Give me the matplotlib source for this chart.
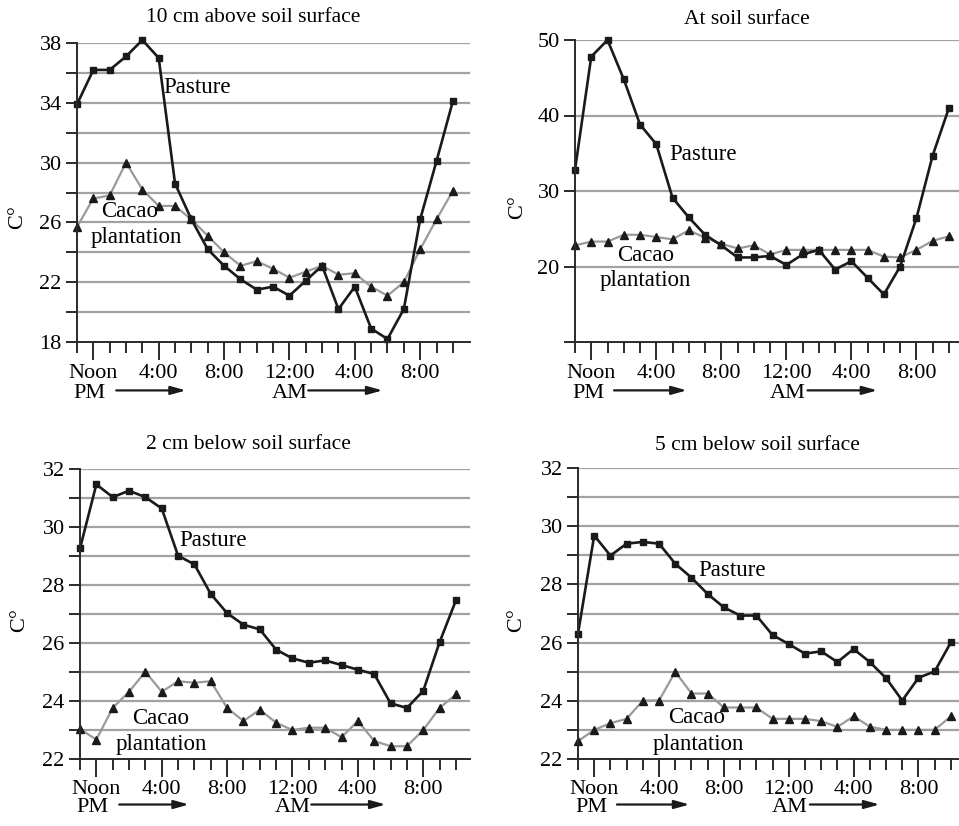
import matplotlib
matplotlib.use("Agg")
import matplotlib.pyplot as plt
from matplotlib.ticker import FixedLocator

plt.rcParams['font.family'] = ['Liberation Serif', 'DejaVu Serif']

# hour of day, 11 AM through 10 AM next morning
hours = [11, 12, 13, 14, 15, 16, 17, 18, 19, 20, 21, 22,
         23, 24, 25, 26, 27, 28, 29, 30, 31, 32, 33, 34]
tick_hours = [12, 16, 20, 24, 28, 32]
tick_labels = ['Noon', '4:00', '8:00', '12:00', '4:00', '8:00']

titles = ['10 cm above soil surface', 'At soil surface',
          '2 cm below soil surface', '5 cm below soil surface']

pasture_10above = [33.9, 36.2, 36.2, 37.1, 38.2, 37.0, 28.6, 26.2, 24.2, 23.1, 22.2, 21.5,
                   21.7, 21.1, 22.1, 23.1, 20.2, 21.7, 18.9, 18.2, 20.2, 26.2, 30.1, 34.1]
cacao_10above = [25.7, 27.6, 27.8, 30.0, 28.2, 27.1, 27.1, 26.2, 25.1, 24.0, 23.1, 23.4,
                 22.9, 22.3, 22.7, 23.1, 22.5, 22.6, 21.7, 21.1, 22.0, 24.2, 26.2, 28.1]

pasture_surface = [32.8, 47.8, 50.0, 44.8, 38.8, 36.2, 29.1, 26.5, 24.2, 22.8, 21.2, 21.2,
                   21.4, 20.2, 21.6, 22.2, 19.6, 20.7, 18.5, 16.3, 20.0, 26.4, 34.7, 41.0]
cacao_surface = [22.8, 23.3, 23.3, 24.2, 24.2, 23.9, 23.6, 24.8, 23.8, 23.0, 22.4, 22.8,
                 21.6, 22.2, 22.2, 22.2, 22.2, 22.2, 22.2, 21.3, 21.2, 22.2, 23.4, 24.0]

pasture_2below = [29.26, 31.47, 31.03, 31.25, 31.03, 30.64, 29.01, 28.71, 27.69, 27.03, 26.63, 26.47,
                  25.77, 25.47, 25.32, 25.40, 25.24, 25.08, 24.93, 23.92, 23.76, 24.35, 26.03, 27.47]
cacao_2below = [23.03, 22.67, 23.76, 24.32, 25.01, 24.32, 24.68, 24.63, 24.68, 23.76, 23.31, 23.70,
                23.25, 23.00, 23.08, 23.08, 22.75, 23.31, 22.62, 22.44, 22.44, 23.00, 23.76, 24.23]

pasture_5below = [26.31, 29.68, 28.99, 29.40, 29.46, 29.40, 28.71, 28.23, 27.67, 27.21, 26.93, 26.93,
                  26.26, 25.95, 25.62, 25.70, 25.33, 25.78, 25.33, 24.78, 24.01, 24.79, 25.01, 26.01]
cacao_5below = [22.61, 23.00, 23.23, 23.38, 24.01, 24.01, 25.00, 24.25, 24.25, 23.77, 23.77, 23.77,
                23.38, 23.38, 23.38, 23.30, 23.10, 23.47, 23.11, 23.00, 23.00, 23.00, 23.00, 23.47]

pasture = [pasture_10above, pasture_surface, pasture_2below, pasture_5below]
cacao = [cacao_10above, cacao_surface, cacao_2below, cacao_5below]

W, H = 959, 826
fig = plt.figure(figsize=(W / 100, H / 100), dpi=100)

# panel boxes in pixels: left, top, right, bottom
boxes = [(77, 43, 470, 342), (575, 40, 959, 342), (80, 469, 470, 759), (578, 468, 959, 759)]
x_right = [35.05, 34.62, 34.86, 34.5]
ylims = [(18, 38), (10, 50), (22, 32), (22, 32)]
grid_step = [2, 10, 1, 1]
label_ticks = [[18, 22, 26, 30, 34, 38], [20, 30, 40, 50], [22, 24, 26, 28, 30, 32], [22, 24, 26, 28, 30, 32]]
title_pos = [(253, 17), (747, 19), (248, 445), (757, 446)]
ylabel_pos = [(18, 217), (518, 207), (20, 620), (517, 620)]
# gap in pixels between axis line and the PM / AM row
row_gap = [52, 52, 49, 49]
# (x, y, ha) for "Pasture", "Cacao", "plantation"
label_pos = [
    [(16.3, 35.0, 'left'), (14.2, 26.7, 'center'), (14.65, 25.0, 'center')],
    [(16.77, 34.8, 'left'), (15.35, 21.4, 'center'), (15.35, 18.1, 'center')],
    [(17.1, 29.55, 'left'), (15.95, 23.4, 'center'), (15.95, 22.5, 'center')],
    [(18.4, 28.49, 'left'), (18.3, 23.44, 'center'), (18.4, 22.5, 'center')],
]
# PM / AM arrow rows: text left x, arrow start, arrow end
pm_row = [(10.75, 13.4, 17.67), (10.82, 13.4, 17.88), (10.75, 13.4, 17.67), (10.82, 13.4, 17.88)]
am_row = [(22.9, 25.15, 29.7), (22.98, 25.3, 29.6), (22.9, 25.15, 29.7), (22.98, 25.3, 29.6)]

grid_col = '#a2a2a2'
axis_col = '#2a2a2a'
fs = 16

for i in range(4):
    l, t, r, b = boxes[i]
    ax = fig.add_axes([l / W, 1 - b / H, (r - l) / W, (b - t) / H])
    ax.set_xlim(11, x_right[i])
    lo, hi = ylims[i]
    ax.set_ylim(lo, hi)
    for spine in ['top', 'right']:
        ax.spines[spine].set_visible(False)
    for spine in ['left', 'bottom']:
        ax.spines[spine].set_color(axis_col)
        ax.spines[spine].set_linewidth(1.4)
        ax.spines[spine].set_zorder(4)

    gy = list(range(lo, hi + 1, grid_step[i]))
    for g in gy[1:]:
        ax.axhline(g, color=grid_col, lw=1.6, zorder=1)
    ax.yaxis.set_major_locator(FixedLocator(gy))
    ax.set_yticklabels([str(g) if g in label_ticks[i] else '' for g in gy])
    ax.tick_params(axis='y', length=8, width=1.4, color=axis_col, pad=3, labelsize=fs)

    ax.xaxis.set_major_locator(FixedLocator(tick_hours))
    ax.xaxis.set_minor_locator(FixedLocator(hours))
    ax.set_xticklabels(tick_labels)
    ax.tick_params(axis='x', which='major', length=13, width=1.4, color=axis_col,
                   pad=2 if i >= 2 else 3, labelsize=fs)
    ax.tick_params(axis='x', which='minor', length=8, width=1.4, color=axis_col)

    ax.plot(hours, cacao[i], color='#9a9a9a', lw=1.6, marker='^', ms=5.5,
            mfc='#1a1a1a', mec='#1a1a1a', zorder=3, clip_on=False)
    ax.plot(hours, pasture[i], color='#1a1a1a', lw=1.9, marker='s', ms=5,
            mfc='#1a1a1a', mec='#1a1a1a', zorder=3, clip_on=False)

    (px, py, pha), (cx, cy, cha), (qx, qy, qha) = label_pos[i]
    ax.text(px, py, 'Pasture', ha=pha, va='center', fontsize=fs + 0.5, zorder=5)
    ax.text(cx, cy, 'Cacao', ha=cha, va='center', fontsize=fs + 0.5, zorder=5)
    ax.text(qx, qy, 'plantation', ha=qha, va='center', fontsize=fs + 0.5, zorder=5)

    yrow = -row_gap[i] / (b - t)
    for (tx, a0, a1), word in [(pm_row[i], 'PM'), (am_row[i], 'AM')]:
        ax.annotate(word, xy=(tx, yrow), xycoords=('data', 'axes fraction'),
                    ha='left', va='center', fontsize=fs, annotation_clip=False)
        ax.annotate('', xy=(a1, yrow + 0.012), xytext=(a0, yrow + 0.012),
                    xycoords=('data', 'axes fraction'), textcoords=('data', 'axes fraction'),
                    arrowprops=dict(arrowstyle='-|>,head_length=0.9,head_width=0.25',
                                    color='#1a1a1a', lw=1.6, shrinkA=0, shrinkB=0),
                    annotation_clip=False)

    tx, ty = title_pos[i]
    fig.text(tx / W, 1 - ty / H, titles[i], ha='center', va='center', fontsize=fs - 0.5)
    lx, ly = ylabel_pos[i]
    fig.text(lx / W, 1 - ly / H, 'C°', ha='center', va='center', rotation=90, fontsize=fs)

fig.savefig('out.png', dpi=100)
